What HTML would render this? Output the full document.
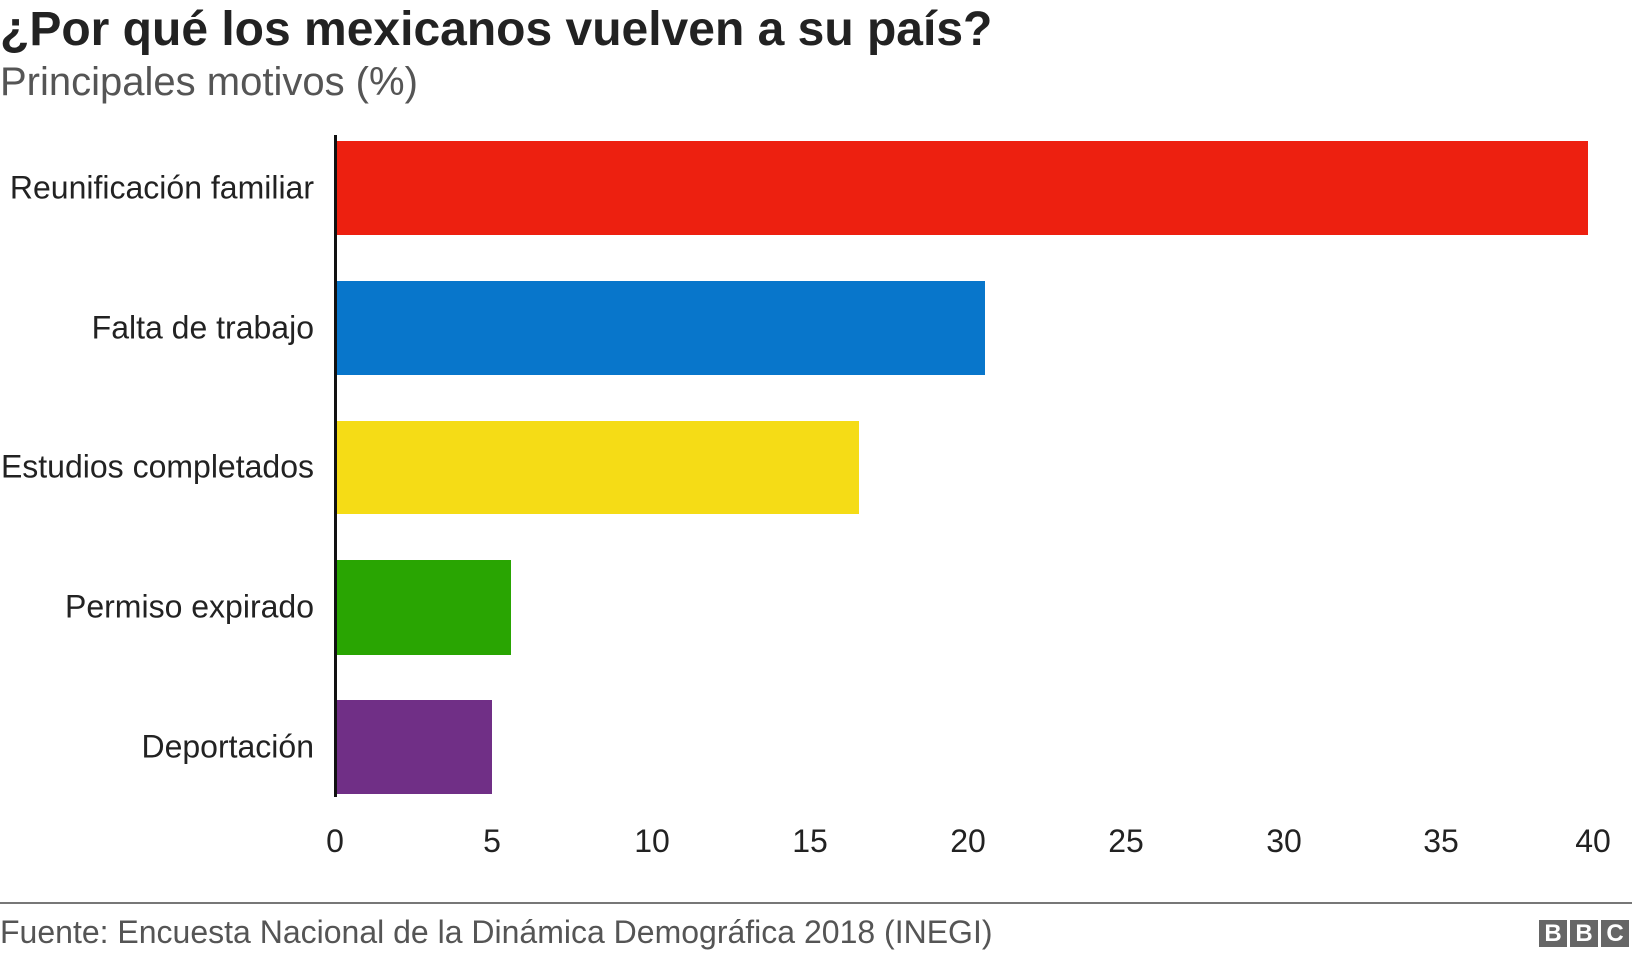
<!DOCTYPE html>
<html><head><meta charset="utf-8"><style>
body{margin:0;width:1632px;height:960px;background:#fff;position:relative;overflow:hidden;font-family:"Liberation Sans",Arial,sans-serif;color:#222}
.a{position:absolute;white-space:nowrap}
.lab{position:absolute;right:1318px;font-size:32px;color:#222;transform:translateY(-50%);white-space:nowrap}
.bar{position:absolute;left:337px}
.t{position:absolute;top:823px;font-size:32px;width:80px;margin-left:-40px;text-align:center;color:#222}
.b{display:inline-block;width:28px;height:27px;background:#666;color:#fff;font-weight:bold;font-size:24px;text-align:center;line-height:27px;margin-left:3px}
</style></head><body>
<div class="a" style="left:0;top:2px;font-size:48px;font-weight:bold;color:#222">¿Por qué los mexicanos vuelven a su país?</div>
<div class="a" style="left:0;top:60px;font-size:40px;color:#555">Principales motivos (%)</div>
<div class="lab" style="top:188px">Reunificación familiar</div>
<div class="lab" style="top:328px">Falta de trabajo</div>
<div class="lab" style="top:467px">Estudios completados</div>
<div class="lab" style="top:607px">Permiso expirado</div>
<div class="lab" style="top:747px">Deportación</div>
<div class="bar" style="top:141px;height:94px;width:1251px;background:#ed2010"></div>
<div class="bar" style="top:281px;height:94px;width:648px;background:#0876cb"></div>
<div class="bar" style="top:421px;height:93px;width:522px;background:#f5dc16"></div>
<div class="bar" style="top:560px;height:95px;width:174px;background:#29a502"></div>
<div class="bar" style="top:700px;height:94px;width:155px;background:#702f86"></div>
<div class="a" style="left:334px;top:135px;width:3px;height:662px;background:#111"></div>
<div class="t" style="left:335px">0</div>
<div class="t" style="left:492px">5</div>
<div class="t" style="left:652px">10</div>
<div class="t" style="left:810px">15</div>
<div class="t" style="left:968px">20</div>
<div class="t" style="left:1126px">25</div>
<div class="t" style="left:1284px">30</div>
<div class="t" style="left:1441px">35</div>
<div class="t" style="left:1593px">40</div>
<div class="a" style="left:0;top:902px;width:1632px;height:2px;background:#777"></div>
<div class="a" style="left:0;top:914px;font-size:32px;color:#555">Fuente: Encuesta Nacional de la Dinámica Demográfica 2018 (INEGI)</div>
<div class="a" style="left:1536px;top:920px"><span class="b">B</span><span class="b">B</span><span class="b">C</span></div>
</body></html>
